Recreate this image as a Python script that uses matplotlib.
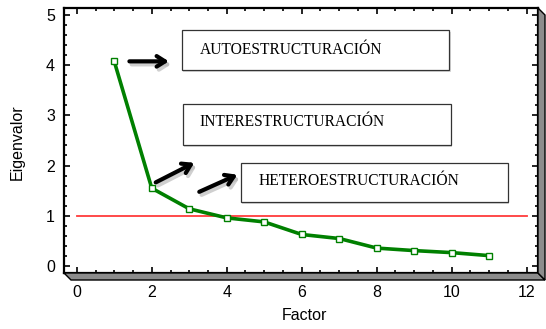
import matplotlib
matplotlib.use("Agg")
import matplotlib.pyplot as plt
from matplotlib.patches import Rectangle, Polygon
from matplotlib.ticker import MultipleLocator

factors = [1, 2, 3, 4, 5, 6, 7, 8, 9, 10, 11]
eigenvalues = [4.07, 1.55, 1.14, 0.96, 0.88, 0.63, 0.55, 0.36, 0.31, 0.27, 0.21]
threshold = 1.0
labels = ["AUTOESTRUCTURACIÓN", "INTERESTRUCTURACIÓN", "HETEROESTRUCTURACIÓN"]

W, H = 546, 329
fig = plt.figure(figsize=(W / 100, H / 100), dpi=100)
L, R, T, B = 64, 538, 8, 273
ax = fig.add_axes([L / W, 1 - B / H, (R - L) / W, (B - T) / H])

ax.set_xlim(-0.34, 12.3)
ax.set_ylim(-0.135, 5.13)

# red threshold line
ax.plot([0, 12], [threshold, threshold], color="#ff3b3b", lw=1.3, zorder=2)

# scree line
ax.plot(factors, eigenvalues, color="#008000", lw=2.6, marker="s", ms=4.5,
        mfc="white", mec="#008000", mew=1.0, zorder=4)

# boxes with text
boxes = [
    ((2.80, 3.89), 7.13, 0.81, (3.27, 4.22)),
    ((2.83, 2.415), 7.14, 0.805, (3.27, 2.78)),
    ((4.37, 1.27), 7.13, 0.79, (4.84, 1.61)),
]
for (xy, w, h, txy), lab in zip(boxes, labels):
    ax.add_patch(Rectangle((xy[0] + 0.04, xy[1] - 0.04), w, h, facecolor="#d8d8d8",
                           edgecolor="none", zorder=4.5))
    ax.add_patch(Rectangle(xy, w, h, facecolor="white", edgecolor="#333333",
                           lw=0.9, zorder=5))
    ax.text(txy[0], txy[1], lab, fontsize=11.2, family="Liberation Serif",
            va="baseline", ha="left", zorder=6)

# arrows
arrows = [((1.33, 4.07), (2.53, 4.07)),
          ((2.04, 1.64), (3.20, 2.08)),
          ((3.20, 1.455), (4.35, 1.84))]
style = "->,head_length=0.6,head_width=0.38"
for s, e in arrows:
    ax.annotate("", xy=(e[0] + 0.06, e[1] - 0.06), xytext=(s[0] + 0.06, s[1] - 0.06),
                arrowprops=dict(arrowstyle=style, lw=3.0, color="#bbbbbb", alpha=0.7),
                zorder=6)
    ax.annotate("", xy=e, xytext=s,
                arrowprops=dict(arrowstyle=style, lw=3.0, color="black"), zorder=7)

# ticks
ax.xaxis.set_major_locator(MultipleLocator(2))
ax.xaxis.set_minor_locator(MultipleLocator(0.5))
ax.yaxis.set_major_locator(MultipleLocator(1))
ax.yaxis.set_minor_locator(MultipleLocator(0.2))
ax.tick_params(which="both", direction="in", top=True, right=True, width=1.2)
ax.tick_params(which="major", length=4, labelsize=11.5)
ax.tick_params(axis="x", which="major", pad=8.5)
ax.tick_params(axis="y", which="major", pad=6.5)
ax.tick_params(which="minor", length=2.5)
for lab in ax.get_xticklabels() + ax.get_yticklabels():
    lab.set_family("Liberation Sans")
for sp in ax.spines.values():
    sp.set_linewidth(1.6)

ax.set_xlabel("Factor", fontsize=11.5, family="Liberation Sans", va="center")
ax.set_ylabel("Eigenvalor", fontsize=11.5, family="Liberation Sans", va="center")
ax.xaxis.set_label_coords(0.508, (B - 315) / (B - T))
ax.yaxis.set_label_coords((17 - L) / (R - L), 0.494)

# 3D shadow along bottom and right
def fpt(px, py):
    return (px / W, 1 - py / H)
d = 7
bottom_sh = Polygon([fpt(L, B), fpt(R, B), fpt(R + d, B + d), fpt(L + d, B + d)],
                    closed=True, facecolor="#8c8c8c", edgecolor="black", lw=1,
                    transform=fig.transFigure, zorder=0)
right_sh = Polygon([fpt(R, T), fpt(R + d, T + d), fpt(R + d, B + d), fpt(R, B)],
                   closed=True, facecolor="#8c8c8c", edgecolor="black", lw=1,
                   transform=fig.transFigure, zorder=0)
fig.patches.extend([bottom_sh, right_sh])

fig.savefig("out.png", dpi=100)
